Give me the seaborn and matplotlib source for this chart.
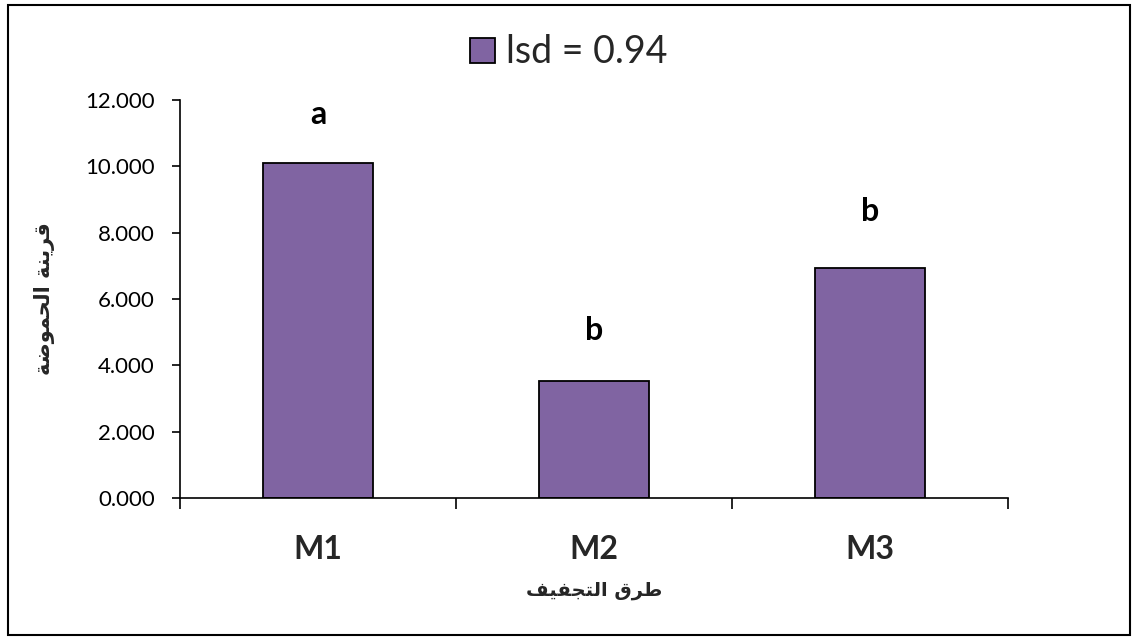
import matplotlib
matplotlib.use("Agg")
import matplotlib.pyplot as plt
import matplotlib.patches as mpatches
import seaborn as sns
import pandas as pd
from matplotlib.ticker import FormatStrFormatter

# --- data ---
methods = ["M1", "M2", "M3"]
acidity = [10.10, 3.53, 6.93]
letters = ["a", "b", "b"]
letter_y = [11.55, 5.06, 8.62]
yticks = [0, 2, 4, 6, 8, 10, 12]
legend_label = "lsd = 0.94"
# Arabic labels, written in presentation forms (visual order) since matplotlib has no shaping
xlabel_ar = "\uFED2\uFEF4\uFED4\uFEA0\uFE98\uFEDF\uFE8D \uFED5\uFEAE\uFEC3"   # طرق التجفيف
ylabel_ar = "\uFE94\uFEBF\uFEEE\uFEE4\uFEA4\uFEDF\uFE8D \uFE94\uFEE8\uFEF3\uFEAE\uFED7"  # قرينة الحموضة

df = pd.DataFrame({"method": methods, "value": acidity})

sns.set_theme(style="white")
plt.rcParams["font.family"] = ["Lato", "DejaVu Sans"]

BAR = "#8064A2"

fig = plt.figure(figsize=(11.38, 6.4), dpi=100)
ax = fig.add_axes([0.158, 0.222, 0.728, 0.622])

sns.barplot(data=df, x="method", y="value", color=BAR, width=0.4,
            edgecolor="black", linewidth=1.3, saturation=1, ax=ax)

# letters of significance
for i, (lt, ly) in enumerate(zip(letters, letter_y)):
    ax.text(i, ly, lt, ha="center", va="center", fontsize=23,
            fontweight="bold", color="black")

ax.set_xlim(-0.5, 2.5)
ax.set_ylim(0, 12)
ax.set_yticks(yticks)
ax.yaxis.set_major_formatter(FormatStrFormatter("%.3f"))
ax.tick_params(axis="y", direction="out", length=6, width=1.2,
               labelsize=16, pad=12, left=True, colors="black")

# category labels at centres, tick marks at category boundaries
ax.set_xticks([0, 1, 2])
ax.set_xticklabels(methods, fontsize=23, fontweight="bold")
ax.tick_params(axis="x", which="major", length=0, pad=27)
ax.set_xticks([-0.5, 0.5, 1.5, 2.5], minor=True)
ax.tick_params(axis="x", which="minor", direction="out", length=8,
               width=1.2, bottom=True, color="black")

for s in ["top", "right"]:
    ax.spines[s].set_visible(False)
for s in ["left", "bottom"]:
    ax.spines[s].set_color("black")
    ax.spines[s].set_linewidth(1.2)

ax.set_xlabel(xlabel_ar, fontsize=14, fontweight="bold",
              family=["DejaVu Sans"], labelpad=12)
ax.set_ylabel(ylabel_ar, fontsize=15, fontweight="bold",
              family=["DejaVu Sans"], labelpad=22)

handle = mpatches.Patch(facecolor=BAR, edgecolor="black", linewidth=1.3)
fig.legend([handle], [legend_label], loc="center", bbox_to_anchor=(0.5, 0.918),
           frameon=False, fontsize=27, handlelength=0.65, handleheight=0.65,
           handletextpad=0.3)

# outer chart border
fig.patches.append(mpatches.Rectangle((0.007, 0.008), 0.986, 0.984,
                                      transform=fig.transFigure, fill=False,
                                      edgecolor="black", linewidth=1.5))

fig.savefig("out.png", dpi=100)
